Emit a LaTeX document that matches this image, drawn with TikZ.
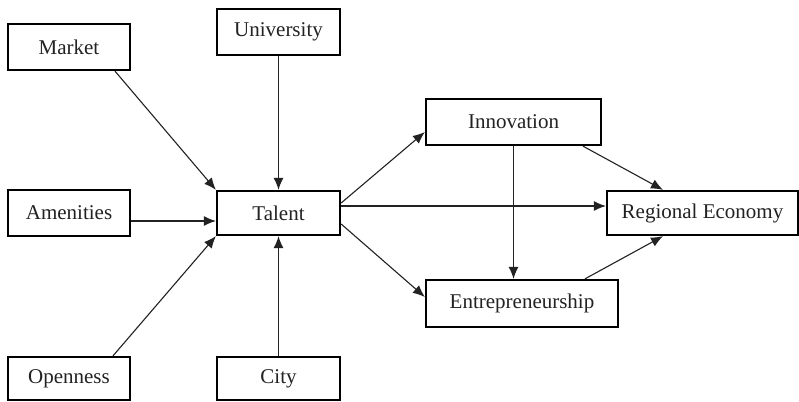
\documentclass[tikz,border=0pt]{standalone}
\usepackage{fontspec}
\setmainfont{Liberation Serif}
\usetikzlibrary{arrows.meta}
\definecolor{ink}{HTML}{222222}
\tikzset{
  box/.style={draw=black, line width=2.3pt, fill=white, inner sep=0pt, text=ink,
    font=\fontsize{21}{24}\selectfont},
  arr/.style={draw=ink, line width=1.1pt, -{Latex[length=12pt,width=10pt]}}
}
\begin{document}
\begin{tikzpicture}[x=1pt,y=-1pt]
\useasboundingbox[fill=white] (0,0) rectangle (799,401);
\node[box, minimum width=122pt, minimum height=46pt] (market) at (69,47) {Market};
\node[box, minimum width=123pt, minimum height=46pt] (univ) at (278.5,32) {University};
\node[box, minimum width=122pt, minimum height=46pt] (amen) at (69,213) {Amenities};
\node[box, minimum width=123pt, minimum height=44pt] (talent) at (278.5,213) {Talent};
\node[box, minimum width=122pt, minimum height=43pt] (open) at (69,378.5) {Openness};
\node[box, minimum width=123pt, minimum height=43pt] (city) at (278.5,378.5) {City};
\node[box, minimum width=175pt, minimum height=46pt] (innov) at (513.5,122) {Innovation};
\node[box, minimum width=192pt, minimum height=47pt] (entre) at (522,303.5) {Entrepreneurship};
\node[box, minimum width=191pt, minimum height=44pt] (regec) at (702.5,213) {Regional Economy};

\draw[arr] ([xshift=46pt]market.south) -- (talent.north west);
\draw[arr] (univ.south) -- (talent.north);
\draw[arr] ([yshift=-8pt]amen.east) -- ([yshift=-8pt]amen.east -| talent.west);
\draw[arr] ([xshift=44pt]open.north) -- (talent.south west);
\draw[arr] (city.north) -- (talent.south);
\draw[arr] ([yshift=10pt]talent.east) -- ([yshift=-10pt]innov.west);
\draw[arr] ([yshift=7pt]talent.east) -- ([yshift=7pt]talent.east -| regec.west);
\draw[arr] ([yshift=-11pt]talent.east) -- ([yshift=6.5pt]entre.west);
\draw[arr] (innov.south) -- (innov.south |- entre.north);
\draw[arr] ([xshift=69.5pt]innov.south) -- ([xshift=-39.5pt]regec.north);
\draw[arr] ([xshift=63pt]entre.north) -- ([xshift=-39.5pt]regec.south);
\end{tikzpicture}
\end{document}
